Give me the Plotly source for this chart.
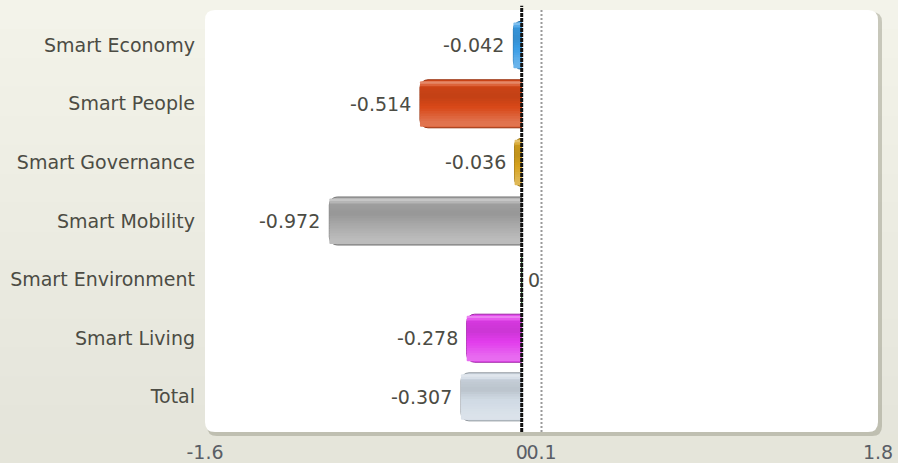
import plotly.graph_objects as go

# ---- data -------------------------------------------------------------
categories = ["Smart Economy", "Smart People", "Smart Governance", "Smart Mobility",
              "Smart Environment", "Smart Living", "Total"]
values = [-0.042, -0.514, -0.036, -0.972, 0, -0.278, -0.307]
bar_colors = ["#3a9de6", "#d84818", "#d6a21e", "#a8a8a8", "#4caf50", "#e23cec", "#d0dae4"]
reference_value = 0.1
x_tick_vals = [-1.6, 0, 0.1, 1.8]
x_tick_text = ["-1.6", "0", "0.1", "1.8"]
x_range = [-1.6, 1.8]

# ---- page geometry (pixels) -------------------------------------------
W, H = 898, 463
PL, PR, PT, PB = 205, 878, 10, 432          # plot area edges
FONT = "DejaVu Sans"
TEXT_COL = "#4c4c44"
FS = 19


def px_to_paper(x, y):
    return (x - PL) / (PR - PL), (PB - y) / (PB - PT)


def rounded_path(x0, y0, x1, y1, r):
    def P(x, y):
        u, v = px_to_paper(x, y)
        return f"{u:.5f},{v:.5f}"
    return " ".join([
        f"M{P(x0 + r, y0)}", f"L{P(x1 - r, y0)}", f"Q{P(x1, y0)} {P(x1, y0 + r)}",
        f"L{P(x1, y1 - r)}", f"Q{P(x1, y1)} {P(x1 - r, y1)}",
        f"L{P(x0 + r, y1)}", f"Q{P(x0, y1)} {P(x0, y1 - r)}",
        f"L{P(x0, y0 + r)}", f"Q{P(x0, y0)} {P(x0 + r, y0)}Z",
    ])


def mix(hex_col, amount):
    """amount > 0 blends toward white, < 0 toward black."""
    r, g, b = (int(hex_col[i:i + 2], 16) for i in (1, 3, 5))
    if amount >= 0:
        r, g, b = (c + (255 - c) * amount for c in (r, g, b))
    else:
        r, g, b = (c * (1 + amount) for c in (r, g, b))
    return f"rgb({int(r)},{int(g)},{int(b)})"


# gloss profile across the bar thickness: (position from top, shade)
gloss = [(0.00, 0.55), (0.07, 0.30), (0.16, -0.06), (0.35, -0.10),
         (0.60, 0.02), (0.85, 0.22), (0.93, 0.25), (1.00, 0.10)]


def shade_at(t):
    for (t0, a0), (t1, a1) in zip(gloss, gloss[1:]):
        if t0 <= t <= t1:
            return a0 + (a1 - a0) * (t - t0) / (t1 - t0)
    return gloss[-1][1]


fig = go.Figure()

BAR_W = 0.82
# base bar carrying the value, with a darker rim
fig.add_trace(go.Bar(
    y=categories, x=values, orientation="h",
    width=BAR_W, offset=-BAR_W / 2,
    marker=dict(color=bar_colors,
                line=dict(width=1, color=[mix(c, -0.3) for c in bar_colors]),
                cornerradius=8),
    showlegend=False,
))
# thin overlapping bands give the glossy vertical gradient
N_BANDS = 18
inner0, inner1 = 0.03, 0.96
step = (inner1 - inner0) / N_BANDS
for k in range(N_BANDS):
    t0 = inner0 + k * step
    amt = shade_at(t0 + step / 2)
    fig.add_trace(go.Bar(
        y=categories, x=values, orientation="h",
        width=step * BAR_W * 1.35,
        offset=-BAR_W / 2 + t0 * BAR_W,
        marker=dict(color=[mix(c, amt) for c in bar_colors],
                    line=dict(width=0), cornerradius=7),
        hoverinfo="skip",
        showlegend=False,
    ))

# value labels beside each bar tip
for cat, v in zip(categories, values):
    fig.add_annotation(
        x=v, y=cat, xref="x", yref="y",
        text=f"{v:g}" if v else "0",
        showarrow=False,
        xanchor="right" if v < 0 else "left",
        xshift=-7 if v < 0 else 4,
        font=dict(family=FONT, size=FS, color=TEXT_COL),
    )

shapes = []
# soft vertical background gradient
n = 16
u0, _ = px_to_paper(0, 0)
u1, _ = px_to_paper(W, 0)
for k in range(n):
    _, v0 = px_to_paper(0, k * H / n)
    _, v1 = px_to_paper(0, (k + 1) * H / n + 1)
    f = k / (n - 1)
    col = (int(243 - 14 * f), int(243 - 14 * f), int(234 - 16 * f))
    shapes.append(dict(type="rect", xref="paper", yref="paper", layer="below",
                       x0=u0, x1=u1, y0=v1, y1=v0, line=dict(width=0),
                       fillcolor=f"rgb{col}"))
# panel shadow and white panel
shapes.append(dict(type="path", xref="paper", yref="paper", layer="below",
                   path=rounded_path(PL + 2, PT + 2, PR + 4, PB + 4, 10),
                   fillcolor="rgba(120,120,100,0.35)", line=dict(width=0)))
shapes.append(dict(type="path", xref="paper", yref="paper", layer="below",
                   path=rounded_path(PL, PT, PR, PB, 10),
                   fillcolor="#ffffff", line=dict(width=0)))
# reference line (dotted) and zero line
shapes.append(dict(type="line", xref="x", yref="paper", layer="above",
                   x0=reference_value, x1=reference_value, y0=0, y1=1,
                   line=dict(color="#9a9a9a", width=2, dash="2px,2px")))
shapes.append(dict(type="line", xref="x", yref="paper", layer="above",
                   x0=0, x1=0, y0=0, y1=1.01,
                   line=dict(color="#111111", width=3, dash="4px,1px")))

fig.update_layout(
    width=W, height=H,
    margin=dict(l=PL, r=W - PR, t=PT, b=H - PB, pad=0, autoexpand=False),
    paper_bgcolor="#ecece2",
    plot_bgcolor="rgba(0,0,0,0)",
    barmode="overlay",
    shapes=shapes,
    showlegend=False,
    font=dict(family=FONT, size=FS, color=TEXT_COL),
    xaxis=dict(range=x_range, tickvals=x_tick_vals, ticktext=x_tick_text,
               tickangle=0, showgrid=False, zeroline=False, showline=False,
               ticks="", ticklabelstandoff=7, automargin=False,
               tickfont=dict(family=FONT, size=FS, color="#5a5e66")),
    yaxis=dict(categoryorder="array", categoryarray=categories,
               range=[6.6, -0.6], showgrid=False, zeroline=False,
               showline=False, ticks="", ticklabelstandoff=9, automargin=False,
               tickfont=dict(family=FONT, size=FS, color=TEXT_COL)),
)

fig.write_html("out.html")
